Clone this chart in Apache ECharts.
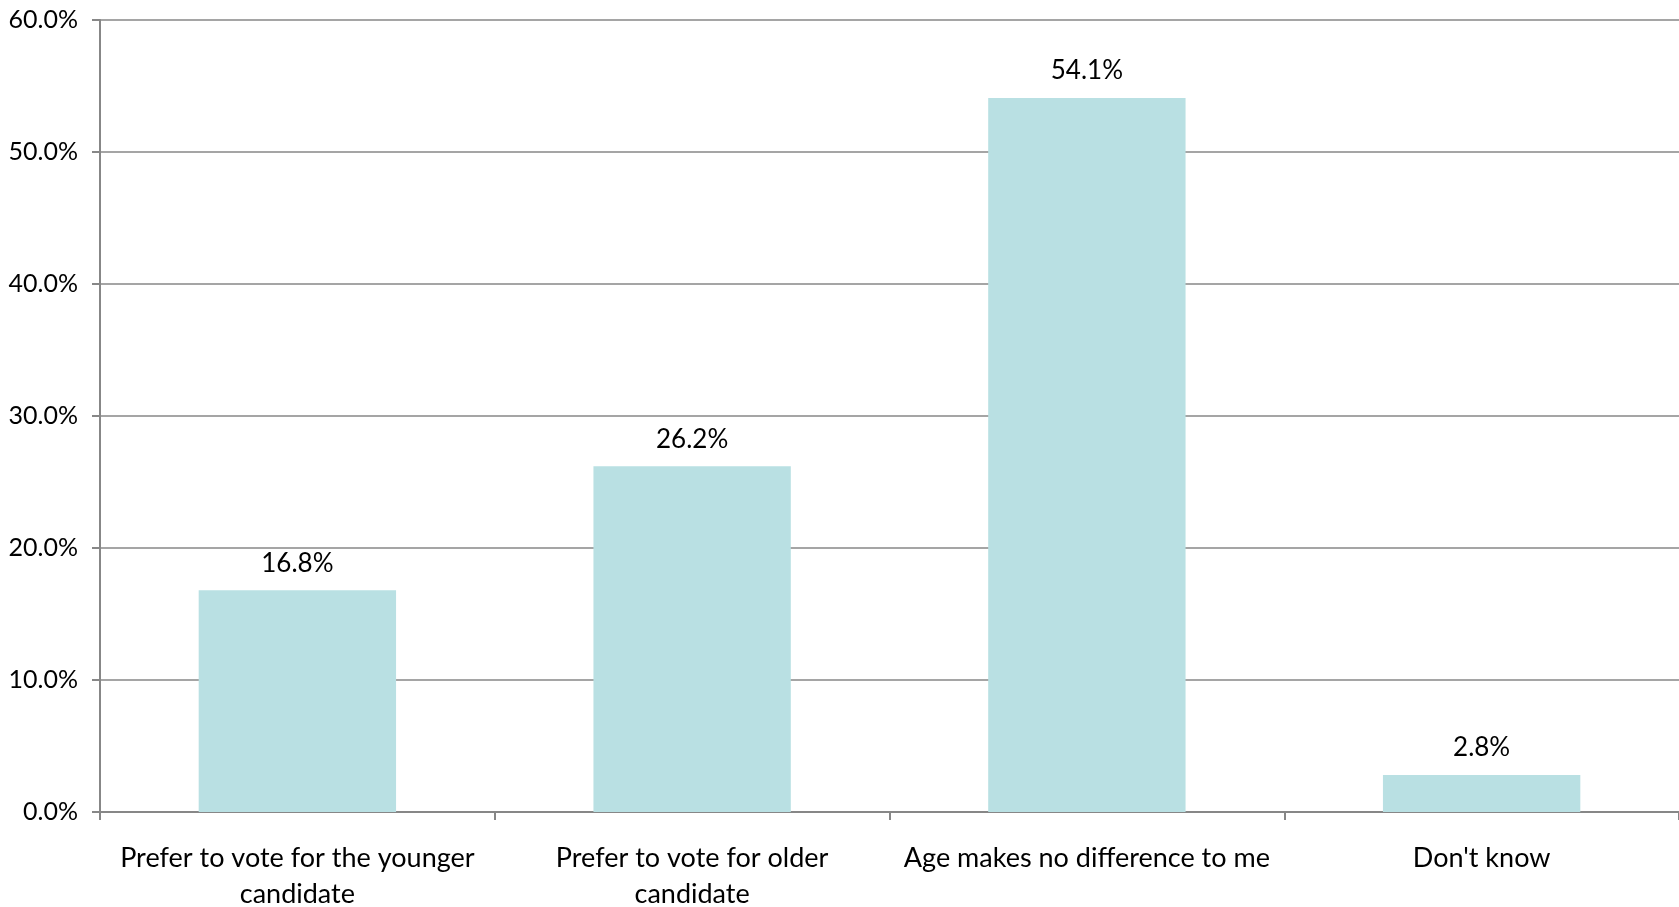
<!DOCTYPE html>
<html>
<head>
    <meta charset="utf-8" />
    <title>Candidate age preference</title>
    <script src="https://cdn.jsdelivr.net/npm/echarts@6/dist/echarts.min.js"></script>
    <style>
        html, body { margin: 0; padding: 0; background: #fff; }
        #chart { width: 1679px; height: 907px; }
    </style>
</head>
<body>
    <div id="chart"></div>
    <script type="text/javascript">
        // categories and values
        var categories = [
            'Prefer to vote for the younger\ncandidate',
            'Prefer to vote for older\ncandidate',
            'Age makes no difference to me',
            "Don't know"
        ];
        var values = [16.8, 26.2, 54.1, 2.8];

        var font = 'Lato, "Open Sans", sans-serif';
        var axisGrey = '#878787';

        var myChart = echarts.init(document.getElementById('chart'));

        myChart.setOption({
            animation: false,
            grid: {
                left: 100,
                right: 0,
                top: 20,
                bottom: 95,
                outerBoundsMode: 'none',
                containLabel: false
            },
            xAxis: {
                type: 'category',
                data: categories,
                axisLine: { lineStyle: { color: axisGrey, width: 2 } },
                axisTick: { show: true, length: 8, lineStyle: { color: axisGrey, width: 2 } },
                axisLabel: {
                    color: '#000',
                    fontFamily: font,
                    fontSize: 27,
                    lineHeight: 36,
                    margin: 28,
                    interval: 0
                }
            },
            yAxis: {
                type: 'value',
                min: 0,
                max: 60,
                interval: 10,
                axisLine: { show: true, lineStyle: { color: axisGrey, width: 2 } },
                axisTick: { show: true, length: 8, lineStyle: { color: axisGrey, width: 2 } },
                splitLine: { lineStyle: { color: axisGrey, width: 1.5 } },
                axisLabel: {
                    color: '#000',
                    fontFamily: font,
                    fontSize: 25,
                    margin: 22,
                    formatter: function (v) { return v.toFixed(1) + '%'; }
                }
            },
            series: [{
                type: 'bar',
                data: values,
                barWidth: '50%',
                itemStyle: { color: '#b9e0e3' },
                label: {
                    show: true,
                    position: 'top',
                    distance: 14,
                    color: '#000',
                    fontFamily: font,
                    fontSize: 26,
                    formatter: function (p) { return p.value.toFixed(1) + '%'; }
                }
            }]
        });
    </script>
</body>
</html>
